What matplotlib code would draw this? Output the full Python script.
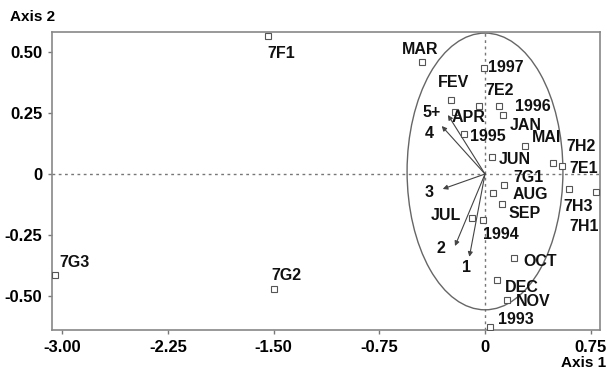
import matplotlib
matplotlib.use('Agg')
import matplotlib.pyplot as plt
from matplotlib.patches import Ellipse

plt.rcParams['font.family'] = ['Liberation Sans', 'DejaVu Sans']
plt.rcParams['font.weight'] = 'bold'
plt.rcParams['axes.unicode_minus'] = False

# row/column scores on the first two axes
labels = ['7F1', '7G3', '7G2', 'MAR', '1997', 'FEV', 'APR', '7E2', '1996', 'JAN',
          '1995', 'MAI', '7H2', '7E1', '7H3', '7H1', 'JUN', '7G1', 'AUG', 'SEP',
          'JUL', '1994', 'OCT', 'DEC', 'NOV', '1993']
axis1 = [-1.540, -3.052, -1.498, -0.449, -0.005, -0.243, -0.213, -0.040, 0.101, 0.126,
         -0.147, 0.286, 0.480, 0.549, 0.596, 0.788, 0.052, 0.137, 0.059, 0.119,
         -0.090, -0.012, 0.206, 0.087, 0.158, 0.035]
axis2 = [0.563, -0.412, -0.469, 0.458, 0.434, 0.302, 0.254, 0.279, 0.278, 0.241,
         0.162, 0.114, 0.046, 0.033, -0.062, -0.075, 0.071, -0.045, -0.076, -0.124,
         -0.181, -0.188, -0.344, -0.433, -0.514, -0.626]

# variable arrows
arrow_names = ['1', '2', '3', '4', '5+']
arrow_x = [-0.111, -0.213, -0.300, -0.307, -0.263]
arrow_y = [-0.338, -0.294, -0.061, 0.196, 0.241]

# label offsets in pixels (dx, dy), text anchored left/centre
label_off = {'7F1': (-1, -17), '7G3': (4, 12), '7G2': (-3, 13), 'MAR': (-20, 12),
             '1997': (4, 0), 'FEV': (-13, 18), 'APR': (-3, -6), '7E2': (6, 15),
             '1996': (16, -1), 'JAN': (7, -10), '1995': (6, -2), 'MAI': (7, 9),
             '7H2': (14, 16), '7E1': (7, -3), '7H3': (-6, -17), '7H1': (-27, -34),
             'JUN': (6, -3), '7G1': (9, 8), 'AUG': (19, -2), 'SEP': (7, -9),
             'JUL': (-42, 3), '1994': (0, -14), 'OCT': (9, -3), 'DEC': (8, -7),
             'NOV': (9, -2), '1993': (8, 8)}
arrow_off = {'1': (-7, -11), '2': (-18, -2), '3': (-18, -4), '4': (-17, -7), '5+': (-25, 3)}

fig = plt.figure(figsize=(6.1, 3.72), dpi=100)
ax = fig.add_axes([0.0852, 0.1129, 0.8984, 0.8011])

ax.axhline(0, color='#777777', lw=1, ls=(0, (2, 2.5)), zorder=1)
ax.axvline(0, color='#777777', lw=1, ls=(0, (2, 2.5)), zorder=1)

ax.add_patch(Ellipse((0, 0.0105), 1.106, 1.13, fill=False, ec='#666666', lw=1, zorder=2))

for name, x, y in zip(arrow_names, arrow_x, arrow_y):
    ax.annotate('', xy=(x, y), xytext=(0, 0),
                arrowprops=dict(arrowstyle='-|>', color='#444444', lw=0.8,
                                mutation_scale=7, shrinkA=0, shrinkB=0))
    dx, dy = arrow_off[name]
    ax.annotate(name, (x, y), xytext=(dx, dy), textcoords='offset pixels',
                ha='left', va='center', fontsize=11.5, fontweight='bold', color='#111111')

ax.plot(axis1, axis2, 's', ms=4, mfc='white', mec='#555555', mew=0.8, zorder=3)
for name, x, y in zip(labels, axis1, axis2):
    dx, dy = label_off[name]
    ax.annotate(name, (x, y), xytext=(dx, dy), textcoords='offset pixels',
                ha='left', va='center', fontsize=11.5, fontweight='bold', color='#111111')

ax.set_xlim(-3.073, 0.816)
ax.set_ylim(-0.637, 0.580)
ax.set_xticks([-3.0, -2.25, -1.5, -0.75, 0, 0.75])
ax.set_xticklabels(['-3.00', '-2.25', '-1.50', '-0.75', '0', '0.75'])
ax.set_yticks([-0.5, -0.25, 0, 0.25, 0.5])
ax.set_yticklabels(['-0.50', '-0.25', '0', '0.25', '0.50'])
ax.tick_params(length=3, width=1, color='#777777', labelsize=12, pad=4)
for s in ax.spines.values():
    s.set_color('#888888')
    s.set_linewidth(1.2)

fig.text(10 / 610, 1 - 17 / 372, 'Axis 2', ha='left', va='center', fontsize=11, fontweight='bold')
fig.text(606 / 610, 1 - 363 / 372, 'Axis 1', ha='right', va='center', fontsize=11, fontweight='bold')

plt.savefig('out.png', dpi=100)
